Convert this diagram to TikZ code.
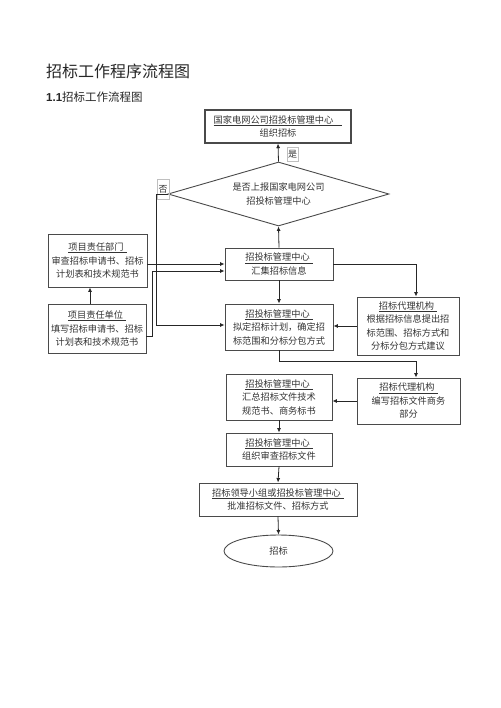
\documentclass[tikz,border=0pt]{standalone}
\usepackage{fontspec}
\setmainfont{Noto Sans CJK SC}
\newfontfamily\arialf{Liberation Sans}
\usetikzlibrary{shapes.geometric,arrows.meta}
\definecolor{bordc}{HTML}{4A4A4A}
\definecolor{txtc}{HTML}{333333}
\tikzset{
  box/.style={draw=bordc, line width=0.9pt, rectangle, inner sep=0pt, align=center,
    text=txtc, font=\fontsize{9.2}{13.5}\selectfont},
  arr/.style={draw=black!85, line width=0.8pt, -{Latex[length=4.5pt,width=4pt]}},
  lbl/.style={draw=black!25, line width=0.5pt, inner sep=0pt, text=txtc,
    font=\fontsize{9}{10}\selectfont},
}
\newcommand{\ul}[1]{\underline{#1\hspace{3pt}}}
\begin{document}
\begin{tikzpicture}[x=1pt,y=-1pt]
\useasboundingbox (0,0) rectangle (500,708);
% titles
\node[anchor=west, inner sep=0pt, text=black!85, font=\fontsize{16}{18}\selectfont] (title) at (46,71) {招标工作程序流程图};
\node[anchor=west, inner sep=0pt, text=black!85, font=\fontsize{11.5}{13}\selectfont] (sub) at (46,97) {{\arialf\bfseries 1.1}招标工作流程图};
% nodes
\node[box, line width=1.1pt, minimum width=146pt, minimum height=33pt] (top) at (278,126.5) {\ul{国家电网公司招投标管理中心\hspace{6pt}}\\组织招标};
\node[draw=bordc, line width=0.9pt, diamond, aspect=3.45, inner sep=0pt, minimum width=221pt, minimum height=64pt,
  align=center, text=txtc, font=\fontsize{9.2}{13.5}\selectfont] (dia) at (278.5,194) {是否上报国家电网公司\\招投标管理中心};
\node[lbl, minimum width=11pt, minimum height=14pt] (yes) at (292.5,154) {是};
\node[lbl, minimum width=12pt, minimum height=20pt] (no) at (163,189) {否};
\node[box, minimum width=108pt, minimum height=32pt] (b4) at (279,264) {\ul{招投标管理中心}\\汇集招标信息};
\node[box, minimum width=108pt, minimum height=46pt] (b5) at (279,327) {\ul{招投标管理中心}\\拟定招标计划，确定招\\标范围和分标分包方式};
\node[box, minimum width=102pt, minimum height=58pt] (r1) at (408,326) {\ul{招标代理机构}\\根据招标信息提出招\\标范围、招标方式和\\分标分包方式建议};
\node[box, minimum width=99pt, minimum height=53pt] (l1) at (97.5,260.5) {\ul{项目责任部门}\\审查招标申请书、招标\\计划表和技术规范书};
\node[box, minimum width=98pt, minimum height=49pt] (l2) at (97,328.5) {\ul{项目责任单位}\\填写招标申请书、招标\\计划表和技术规范书};
\node[box, minimum width=106pt, minimum height=46pt] (b6) at (279,397) {\ul{招投标管理中心}\\汇总招标文件技术\\规范书、商务标书};
\node[box, minimum width=103pt, minimum height=46pt] (r2) at (408.5,401) {\ul{招标代理机构}\\编写招标文件商务\\部分};
\node[box, minimum width=106pt, minimum height=33pt] (b7) at (279,449.5) {\ul{招投标管理中心}\\组织审查招标文件};
\node[box, minimum width=158pt, minimum height=33pt] (b8) at (278,499.5) {\ul{招标领导小组或招投标管理中心}\\批准招标文件、招标方式};
\node[box, ellipse, minimum width=109pt, minimum height=32pt] (ell) at (278.5,551) {招标};
% helper coordinates
\coordinate (l1o) at ([yshift=-3.5pt]l1.east);
\coordinate (l2o) at ([yshift=-7.5pt]l2.east);
\coordinate (b4in) at ([yshift=-7pt]b4.west);
\coordinate (l2up) at ([xshift=-7pt]l2.north);
\coordinate (b5in) at ([yshift=2pt]b5.west);
\coordinate (r1in) at ([xshift=8pt]r1.north);
\coordinate (r2in) at ([xshift=7.5pt]r2.north);
% connectors
\draw[arr] (dia.north) -- (top.south);
\draw[arr] (dia.west) -- ++(-11.5,0) |- (b5in);
\draw[arr] (b4.north) -- (dia.south);
\draw[arr] (l1o) -- (l1o -| b4.west);
\draw[arr] (l2o) -- ++(6,0) |- (b4in);
\draw[arr] (l2up) -- (l2up |- l1.south);
\draw[arr] (b4.east) -| (r1in);
\draw[arr] (b4.south) -- (b5.north);
\draw[arr] (r1.west) -- (r1.west -| b5.east);
\draw[arr] (b5.south) -- ++(0,11) -| (r2in);
\draw[arr] (r2.west) -- (r2.west -| b6.east);
\draw[arr] (b6.south) -- (b7.north);
\draw[arr] (b7.south) -- (b8.north);
\draw[arr] (b8.south) -- (ell.north);
\end{tikzpicture}
\end{document}
